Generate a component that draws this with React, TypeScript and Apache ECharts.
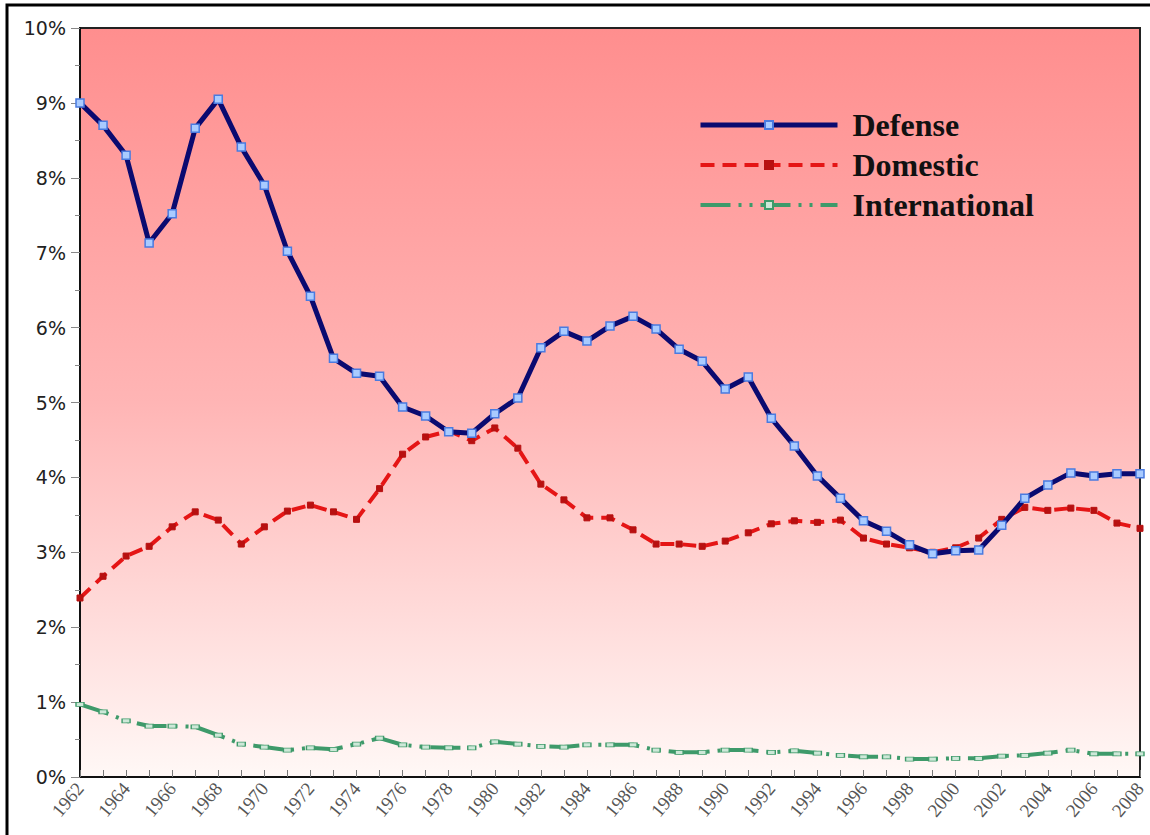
import React, { useEffect, useRef } from "react";
import * as echarts from "echarts";

const years: string[] = [];
for (let y = 1962; y <= 2008; y++) years.push(String(y));

const defense = [
  9.0, 8.7, 8.3, 7.13, 7.52, 8.66, 9.05, 8.41, 7.9, 7.02, 6.42, 5.59, 5.39, 5.35, 4.94, 4.82,
  4.61, 4.59, 4.85, 5.06, 5.73, 5.95, 5.82, 6.02, 6.15, 5.98, 5.71, 5.55, 5.18, 5.34, 4.79,
  4.42, 4.02, 3.72, 3.42, 3.28, 3.1, 2.98, 3.02, 3.03, 3.36, 3.72, 3.9, 4.06, 4.02, 4.05, 4.05,
];
const domestic = [
  2.39, 2.68, 2.95, 3.08, 3.34, 3.54, 3.43, 3.11, 3.34, 3.55, 3.63, 3.54, 3.44, 3.85, 4.31,
  4.54, 4.62, 4.49, 4.66, 4.39, 3.91, 3.7, 3.46, 3.46, 3.3, 3.11, 3.11, 3.08, 3.15, 3.26, 3.38,
  3.42, 3.4, 3.43, 3.19, 3.11, 3.06, 3.0, 3.06, 3.19, 3.44, 3.6, 3.56, 3.59, 3.56, 3.39, 3.32,
];
const international = [
  0.97, 0.87, 0.75, 0.68, 0.68, 0.67, 0.56, 0.44, 0.4, 0.36, 0.39, 0.37, 0.44, 0.52, 0.43,
  0.4, 0.39, 0.39, 0.47, 0.44, 0.41, 0.4, 0.43, 0.43, 0.43, 0.36, 0.33, 0.33, 0.36, 0.36, 0.33,
  0.35, 0.32, 0.29, 0.27, 0.27, 0.24, 0.24, 0.25, 0.25, 0.28, 0.29, 0.32, 0.36, 0.31, 0.31, 0.31,
];

const seriesNames = ["Defense", "Domestic", "International"];

export default function App() {
  const ref = useRef<HTMLDivElement>(null);
  useEffect(() => {
    document.body.style.margin = "0";
    const chart = echarts.init(ref.current!, null, { renderer: "svg" });
    const serif = "'Liberation Serif', 'DejaVu Serif', serif";
    chart.setOption({
      animation: false,
      backgroundColor: "#ffffff",
      graphic: [
        {
          type: "rect",
          shape: { x: 7, y: 5, width: 1160, height: 860 },
          style: { fill: "none", stroke: "#000", lineWidth: 3 },
          silent: true,
        },
      ],
      grid: {
        left: 80,
        right: 10,
        top: 28,
        bottom: 58,
        show: true,
        borderColor: "#222",
        borderWidth: 2,
        backgroundColor: new echarts.graphic.LinearGradient(0, 0, 0, 1, [
          { offset: 0, color: "#FF8E8E" },
          { offset: 0.5, color: "#FFB5B5" },
          { offset: 1, color: "#FFF8F6" },
        ]),
      },
      legend: {
        orient: "vertical",
        left: 693,
        top: 104,
        itemWidth: 137,
        itemHeight: 10,
        itemGap: 8,
        data: seriesNames,
        lineStyle: { width: "inherit" },
        textStyle: {
          fontFamily: serif,
          fontWeight: "bold",
          fontSize: 32,
          color: "#111",
          padding: [0, 0, 0, 10],
        },
      },
      xAxis: {
        type: "category",
        data: years,
        boundaryGap: false,
        axisLine: { lineStyle: { color: "#111", width: 2 } },
        axisTick: {
          show: true,
          inside: true,
          length: 7,
          interval: 0,
          lineStyle: { color: "#777", width: 1 },
        },
        axisLabel: {
          interval: 1,
          rotate: 50,
          fontFamily: serif,
          fontSize: 19,
          color: "#555",
          margin: 8,
        },
        splitLine: { show: false },
      },
      yAxis: {
        type: "value",
        min: 0,
        max: 10,
        interval: 1,
        axisLine: { show: true, lineStyle: { color: "#111", width: 2 } },
        axisTick: { show: true, length: 9, lineStyle: { color: "#888" } },
        minorTick: { show: true, splitNumber: 2, length: 5, lineStyle: { color: "#888" } },
        splitLine: { show: false },
        axisLabel: {
          formatter: "{value}%",
          fontFamily: "'DejaVu Sans', Verdana, sans-serif",
          fontSize: 19,
          color: "#222",
          margin: 14,
        },
      },
      series: [
        {
          name: "Defense",
          type: "line",
          data: defense,
          lineStyle: { color: "#0A0A70", width: 5 },
          itemStyle: { color: "#A9CBFF", borderColor: "#4A7BE0", borderWidth: 1.5 },
          symbol: "rect",
          symbolSize: 8,
          showAllSymbol: true,
          z: 5,
        },
        {
          name: "Domestic",
          type: "line",
          data: domestic,
          lineStyle: { color: "#E51515", width: 4, type: [14, 8] },
          itemStyle: { color: "#B81010", borderColor: "#B81010", borderWidth: 1 },
          symbol: "rect",
          symbolSize: 6,
          showAllSymbol: true,
          z: 4,
        },
        {
          name: "International",
          type: "line",
          data: international,
          lineStyle: { color: "#3E9A6A", width: 4, type: [30, 8, 3, 8, 3, 8] },
          itemStyle: { color: "#CDE8D8", borderColor: "#3E9A6A", borderWidth: 1 },
          symbol: "rect",
          symbolSize: [8, 4],
          showAllSymbol: true,
          z: 3,
        },
      ],
    });
    return () => chart.dispose();
  }, []);
  return <div ref={ref} style={{ width: 1150, height: 835 }} />;
}
